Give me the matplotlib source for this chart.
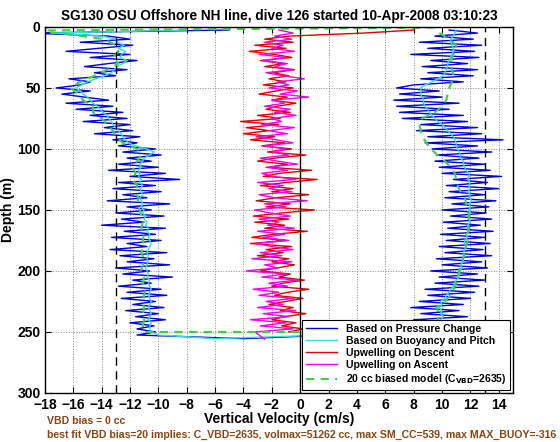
import numpy as np
import matplotlib
matplotlib.use('Agg')
import matplotlib.pyplot as plt

plt.rcParams['font.family'] = ['Liberation Sans', 'DejaVu Sans']
plt.rcParams['font.weight'] = 'bold'

# depth grids (m)
dn_depth = list(np.arange(2.5, 250.1, 2.5))
up_depth = list(np.arange(250, 2.4, -2.5))

# descent, based on pressure change (cm/s)
blue_dn = [-5, -19, -13.5, -12, -15.5, -11.8, -14.2, -16.5, -12, -14.8,
           -11.5, -13.5, -15.2, -12.2, -14.5, -13, -16.3, -14.8, -15.5, -17.2,
           -14.8, -16.8, -15.2, -13.5, -16.5, -13.2, -15.8, -12.5, -14.8, -12.2,
           -15.3, -12, -13.8, -11.8, -14.5, -11.3, -13.2, -11.5, -12.8, -10.2,
           -12.5, -9.8, -12.2, -10.5, -12.8, -10, -13.5, -9.5, -12, -8.5,
           -12.8, -10.2, -13.2, -9.8, -12.5, -10.8, -13.6, -9.2, -12.2, -10.5,
           -13, -9.6, -12.6, -11, -14, -9.5, -12.4, -10.2, -13.3, -9.8,
           -12.2, -10.8, -13.4, -9.4, -12.7, -10.3, -12.2, -9.2, -13.0, -10.6,
           -12.5, -9.0, -11.8, -10.5, -12.8, -9.8, -12.2, -9.4, -12.6, -10.2,
           -11.8, -9.6, -12.3, -10, -11.6, -9.5, -12, -10.3, -11.5, -10.2]
# ascent, based on pressure change (deep -> shallow)
blue_up = [7.5, 10.5, 8.2, 11.3, 8.0, 11.8, 8.5, 11.2, 7.8, 11.5,
           8.4, 12.0, 9.0, 12.3, 8.8, 12.6, 9.5, 13.0, 9.8, 12.5,
           9.2, 13.2, 10.0, 12.8, 9.6, 13.5, 10.2, 12.9, 9.8, 13.4,
           10.3, 13.0, 9.9, 13.6, 10.4, 12.7, 10.1, 13.5, 10.6, 13.1,
           10.0, 13.3, 10.7, 13.8, 10.2, 13.0, 10.5, 14.0, 10.3, 13.2,
           10.8, 14.2, 10.0, 13.4, 9.8, 13.0, 9.5, 12.6, 9.6, 13.5,
           9.3, 12.5, 8.8, 14.3, 9.0, 12.8, 8.2, 12.5, 8.5, 11.8,
           7.2, 11.5, 7.0, 10.5, 6.8, 11.2, 6.6, 10.0, 7.0, 9.8,
           6.8, 8.0, 11.5, 8.5, 12.2, 9.0, 12.5, 8.6, 11.8, 9.2,
           12.6, 7.8, 12.3, 9.0, 12.8, 8.4, 12.2, 9.5, 12.5, 10.5]

# based on buoyancy and pitch
cyan_dn = [-8, -17.5, -14, -13, -12.9, -12.4, -12.8, -12.3, -12.6, -12.7,
           -12.2, -12.5, -12.9, -13.1, -13.3, -13.8, -14.4, -15, -15.4, -15.8,
           -15.5, -15.3, -15, -14.8, -14.6, -14.3, -14.1, -13.9, -13.6, -13.5,
           -13.3, -13.2, -13, -12.8, -12.6, -12.5, -12.3, -12.1, -11.6, -10.8,
           -10.3, -10.6, -11, -11.1, -11.3, -11.2, -11.4, -11.3, -11.4, -11.2,
           -11.3, -11.1, -11.3, -11.2, -11.1, -11.3, -11.2, -11.1, -11.2, -11.0,
           -11.1, -10.9, -11.0, -10.8, -10.9, -10.7, -10.8, -10.6, -10.7, -10.6,
           -10.5, -10.6, -10.7, -10.8, -10.7, -10.8, -10.7, -10.8, -10.9, -10.8,
           -10.7, -10.8, -10.6, -10.7, -10.6, -10.5, -10.6, -10.7, -10.6, -10.5,
           -10.6, -10.7, -10.6, -10.5, -10.6, -10.7, -10.5, -10.6, -10.6, -10.5]
cyan_up = [8.6, 9.0, 9.4, 9.8, 9.9, 10.1, 9.9, 10.0, 9.8, 10.0,
           9.9, 10.2, 10.3, 10.5, 10.6, 10.8, 10.9, 11.0, 11.2, 11.2,
           11.3, 11.4, 11.3, 11.5, 11.4, 11.6, 11.5, 11.6, 11.7, 11.6,
           11.6, 11.8, 11.7, 11.9, 11.8, 11.8, 12.0, 11.9, 11.9, 12.0,
           11.9, 12.0, 11.9, 12.1, 11.9, 12.0, 11.8, 12.0, 11.9, 12.0,
           11.8, 11.9, 11.9, 11.7, 11.6, 11.5, 11.5, 11.3, 11.3, 11.2,
           11.1, 11.0, 11.0, 10.9, 10.8, 10.6, 10.4, 10.2, 10.0, 9.7,
           9.5, 9.3, 9.1, 9.0, 8.8, 8.7, 8.7, 8.6, 8.5, 8.5,
           8.5, 8.8, 9.3, 9.7, 10.1, 10.2, 10.3, 10.4, 10.4, 10.5,
           10.6, 10.7, 10.8, 10.8, 10.7, 10.6, 10.6, 10.8, 10.9, 11.0]

# upwelling on descent
red_dn = [8.0, 4.5, -0.8, -2.5, -0.5, -3.2, -1.0, -3.6, -1.8, -0.6,
          -2.8, -1.2, -2.5, -0.4, -1.9, -0.8, -2.2, -1.0, -2.6, -0.5,
          -1.7, -2.9, -0.9, -2.0, -0.3, -1.6, -2.4, -0.7, -3.0, -1.4,
          -4.2, -1.5, -3.8, -2.2, -4.0, -1.8, -3.5, -1.1, -2.7, -0.6,
          -2.3, 0.4, -1.8, -3.0, -0.9, -2.2, 0.8, -1.5, -2.6, 1.2,
          -1.0, -2.8, -0.5, -2.0, 0.6, -1.7, -3.1, -0.7, -2.4, 1.0,
          -1.3, -3.3, -0.8, -3.2, -1.1, -2.5, 0.5, -1.9, -3.4, -1.0,
          -3.5, -0.6, -2.4, -1.2, -3.0, -0.8, -2.0, -0.4, -1.6, -2.8,
          -0.7, -1.5, 0.3, -1.2, -2.0, 0.6, -0.9, -1.8, 0.2, -1.0,
          -2.2, -0.5, -1.4, 0.4, -1.1, -2.0, -0.3, -1.3, 0.2, -0.8]
# upwelling on ascent (deep -> shallow)
mag_up = [-3.2, -0.5, -2.8, -1.0, -3.5, -0.8, -2.6, -0.3, -3.0, -1.2,
          -2.4, -0.4, -2.9, -1.5, -3.3, -0.9, -2.2, -0.2, -2.7, -1.0,
          -3.8, -1.6, -2.5, -0.6, -3.4, -1.3, -2.8, -0.5, -2.0, -3.1,
          -0.8, -2.6, -1.1, -3.0, -0.4, -2.3, -1.5, -2.9, -0.7, -2.1,
          -3.2, -1.0, -2.5, 0.5, -1.8, -2.9, -0.6, -2.2, -1.2, -3.0,
          -0.3, -1.9, -2.7, -0.9, -2.4, -0.2, -1.6, -2.8, -0.8, -2.0,
          -1.0, -2.6, -0.5, -1.7, -3.1, -0.9, -2.2, -0.4, -2.7, -1.3,
          -2.0, -0.3, -1.8, -0.7, -2.5, -1.1, -2.0, 0.6, -1.4, -0.2,
          -2.2, -0.8, -1.6, 0.3, -1.2, -2.4, -0.5, -1.8, -0.9, -2.6,
          -1.0, -2.9, -0.4, -2.0, -1.2, -2.5, -0.6, -1.8, -0.5, -1.5]

# 20 cc biased model
green_dn_depth = list(np.arange(5, 250.1, 5))
green_dn = [-17, -13.8, -13, -12.8, -13.2, -12.8, -13.6, -14.5, -15.5, -16.2,
            -15.6, -15.3, -14.6, -14.6, -14, -13.6, -13.2, -13, -12.5, -11.5,
            -11.2, -11.5, -11.8, -11.6, -11.8, -11.5, -11.6, -11.4, -11.5, -11.3,
            -11.2, -11.1, -11.2, -11.0, -11.1, -11.0, -11.2, -11.0, -11.1, -11.2,
            -11.0, -11.1, -10.9, -11.0, -11.1, -11.0, -11.1, -11.0, -11.1, -11.0]
green_up_depth = list(np.arange(250, 4.9, -5))
green_up = [8.4, 9.5, 9.7, 9.8, 9.6, 10.2, 10.6, 10.8, 11.0, 11.1,
            11.2, 11.4, 11.5, 11.6, 11.7, 11.8, 11.8, 11.9, 11.8, 11.9,
            11.8, 11.7, 11.6, 11.3, 11.1, 11.0, 10.9, 10.6, 10.2, 9.7,
            9.2, 8.9, 8.6, 8.5, 8.4, 8.6, 9.5, 10.0, 10.3, 10.4,
            10.5, 10.7, 10.8, 10.7, 10.6, 10.7, 10.9, 11.0, 10.5, 9.8]

# surface / bottom turn points
top_depth = [0.5, 3.0]
green_top = [9.5, -20]
bot_depth = [252.5, 255.5]
blue_bot = [-11.5, -4.0]
cyan_bot = [-10.0, -6.0]

fig = plt.figure(figsize=(5.6, 4.42), dpi=100)
ax = fig.add_axes([0.080, 0.111, 0.836, 0.828])

ax.plot(blue_dn + blue_bot + blue_up, dn_depth + bot_depth + up_depth,
        color='#0000DD', lw=1.0, label='Based on Pressure Change')
ax.plot(cyan_dn + cyan_bot + cyan_up, dn_depth + bot_depth + up_depth,
        color='#30E0E0', lw=1.0, label='Based on Buoyancy and Pitch')
ax.plot(red_dn, dn_depth, color='#E00000', lw=1.0, label='Upwelling on Descent')
ax.plot([-2.5] + mag_up, [256] + up_depth, color='#F000F0', lw=1.0,
        label='Upwelling on Ascent')
ax.plot(green_top + green_dn + green_up, top_depth + green_dn_depth + green_up_depth,
        color='#40D040', lw=1.5, ls=(0, (4, 3)),
        label=r'20 cc biased model (C$_{\mathbf{VBD}}$=2635)')

ax.axvline(0, color='k', lw=1)
ax.axvline(-13, color='k', lw=1, ls=(0, (6, 4)))
ax.axvline(13, color='k', lw=1, ls=(0, (6, 4)))

ax.set_xlim(-18, 15)
ax.set_ylim(300, 0)
ax.set_xticks(np.arange(-18, 15, 2))
ax.set_yticks(np.arange(0, 301, 50))
ax.grid(True, ls=':', color='#888888', lw=0.7)
ax.tick_params(direction='in', top=True, right=True, labelsize=10, length=4)
ax.tick_params(axis='x', pad=4)
ax.tick_params(axis='y', pad=3)
for s in ax.spines.values():
    s.set_linewidth(1)

ax.set_title('SG130 OSU Offshore NH line, dive 126 started 10-Apr-2008 03:10:23',
             fontsize=9.8, fontweight='bold', pad=5)
ax.set_xlabel('Vertical Velocity (cm/s)', fontsize=10, fontweight='bold', labelpad=0)
ax.set_ylabel('Depth (m)', fontsize=10, fontweight='bold', labelpad=2)

leg = ax.legend(loc='lower right', fontsize=7.5, frameon=True, fancybox=False,
                framealpha=1, edgecolor='k', borderaxespad=0.3, handlelength=3.0,
                labelspacing=0.2, borderpad=0.35)
leg.get_frame().set_linewidth(0.8)

brown = '#8B4513'
fig.text(0.084, 1 - 421 / 442, 'VBD bias = 0 cc', color=brown, fontsize=7.6,
         fontweight='bold', va='center')
fig.text(0.084, 1 - 435 / 442,
         'best fit VBD bias=20 implies: C_VBD=2635, volmax=51262 cc, max SM_CC=539, max MAX_BUOY=-316',
         color=brown, fontsize=7.6, fontweight='bold', va='center')

fig.savefig('out.png', dpi=100)
